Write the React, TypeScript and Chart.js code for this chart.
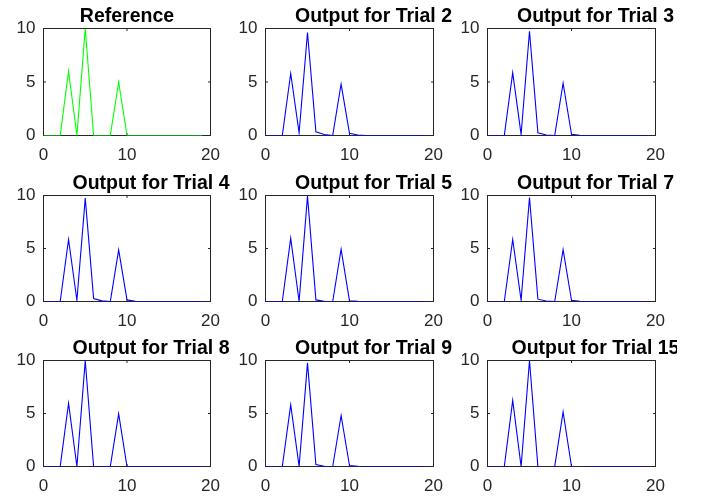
import React, { useEffect, useRef } from 'react';
import { Chart, registerables } from 'chart.js';

Chart.register(...registerables);

// ---------- data ----------
const X_VALUES = [0, 1, 2, 3, 4, 5, 6, 7, 8, 9, 10, 11, 12, 13, 14, 15, 16, 17, 18, 19];
const X_TICKS = [0, 10, 20];
const Y_TICKS = [0, 5, 10];

const REFERENCE = [0, 0, 0, 6, 0, 10, 0, 0, 0, 5, 0, 0, 0, 0, 0, 0, 0, 0, 0, 0];
const TRIAL_2 = [0, 0, 0, 5.8, 0.25, 9.63, 0.35, 0.1, 0, 4.81, 0.2, 0.05, 0, 0, 0, 0, 0, 0, 0, 0];
const TRIAL_3 = [0, 0, 0, 5.87, 0.1, 9.75, 0.25, 0.05, 0, 4.9, 0.12, 0.03, 0, 0, 0, 0, 0, 0, 0, 0];
const TRIAL_4 = [0, 0, 0, 5.85, 0.12, 9.75, 0.28, 0.06, 0, 4.87, 0.15, 0.03, 0, 0, 0, 0, 0, 0, 0, 0];
const TRIAL_5 = [0, 0, 0, 5.97, 0.02, 9.94, 0.15, 0.03, 0, 4.94, 0.06, 0.01, 0, 0, 0, 0, 0, 0, 0, 0];
const TRIAL_7 = [0, 0, 0, 5.85, 0.12, 9.81, 0.22, 0.04, 0, 4.9, 0.12, 0.03, 0, 0, 0, 0, 0, 0, 0, 0];
const TRIAL_8 = [0, 0, 0, 5.98, 0, 9.98, 0, 0, 0, 4.97, 0, 0, 0, 0, 0, 0, 0, 0, 0, 0];
const TRIAL_9 = [0, 0, 0, 5.82, 0.02, 9.78, 0.19, 0.03, 0, 4.81, 0.09, 0.03, 0, 0, 0, 0, 0, 0, 0, 0];
const TRIAL_15 = [0, 0, 0, 6.23, 0, 10.0, 0, -0.2, 0, 5.15, 0, -0.15, 0, 0, 0, 0, 0, 0, 0, 0];

const TITLES = [
  'Reference',
  'Output for Trial 2',
  'Output for Trial 3',
  'Output for Trial 4',
  'Output for Trial 5',
  'Output for Trial 7',
  'Output for Trial 8',
  'Output for Trial 9',
  'Output for Trial 15',
];
const SERIES = [REFERENCE, TRIAL_2, TRIAL_3, TRIAL_4, TRIAL_5, TRIAL_7, TRIAL_8, TRIAL_9, TRIAL_15];

// ---------- layout / style ----------
const W = 702;
const H = 497;
const COL_L = [43.5, 265.5, 487.5];
const COL_R = [210.5, 433.5, 655.5];
const ROW_T = [28.5, 195.5, 360.5];
const ROW_B = [135.5, 301.5, 466.5];
const Y_AXIS_W = 40;
const X_AXIS_H = 28;
const TITLE_CLIP_X = 677;
const AXIS_COLOR = '#262626';
const FONT_FAMILY = '"Liberation Sans", Arial, Helvetica, sans-serif';

const framePlugin = {
  id: 'mframe',
  beforeDatasetsDraw(chart: any) {
    const { ctx, chartArea, scales } = chart;
    const { left, right, top, bottom } = chartArea;
    ctx.save();
    ctx.strokeStyle = AXIS_COLOR;
    ctx.lineWidth = 1;
    ctx.strokeRect(left, top, right - left, bottom - top);
    const tl = 2.5;
    ctx.beginPath();
    for (const v of X_TICKS) {
      const px = scales.x.getPixelForValue(v);
      ctx.moveTo(px, bottom);
      ctx.lineTo(px, bottom - tl);
      ctx.moveTo(px, top);
      ctx.lineTo(px, top + tl);
    }
    for (const v of Y_TICKS) {
      const py = scales.y.getPixelForValue(v);
      ctx.moveTo(left, py);
      ctx.lineTo(left + tl, py);
      ctx.moveTo(right, py);
      ctx.lineTo(right - tl, py);
    }
    ctx.stroke();
    ctx.restore();
  },
  afterDraw(chart: any, _args: any, opts: any) {
    const { ctx, chartArea } = chart;
    const { left, right, top } = chartArea;
    ctx.save();
    ctx.beginPath();
    ctx.rect(0, 0, TITLE_CLIP_X, H);
    ctx.clip();
    ctx.font = `bold 19.5px ${FONT_FAMILY}`;
    ctx.fillStyle = '#000000';
    ctx.textAlign = 'center';
    ctx.textBaseline = 'alphabetic';
    ctx.fillText(opts.title, (left + right) / 2 + opts.shift, top - 6.5);
    ctx.restore();
  },
};

function Panel({ index }: { index: number }) {
  const ref = useRef<HTMLCanvasElement | null>(null);
  useEffect(() => {
    const row = Math.floor(index / 3);
    const col = index % 3;
    const L = COL_L[col];
    const R = COL_R[col];
    const T = ROW_T[row];
    const B = ROW_B[row];
    const values = SERIES[index];
    const chart = new Chart(ref.current as HTMLCanvasElement, {
      type: 'line',
      data: {
        datasets: [
          {
            data: X_VALUES.map((x, i) => ({ x, y: values[i] })),
            borderColor: index === 0 ? '#00ff00' : '#0000ff',
            borderWidth: 1.1,
            pointRadius: 0,
            tension: 0,
            fill: false,
          },
        ],
      },
      options: {
        animation: false,
        responsive: false,
        devicePixelRatio: 1,
        layout: {
          padding: {
            left: L - Y_AXIS_W,
            top: T,
            right: W - R,
            bottom: H - B - X_AXIS_H,
          },
        },
        plugins: {
          legend: { display: false },
          tooltip: { enabled: false },
          title: { display: false },
          mframe: { title: TITLES[index], shift: index === 0 ? 0 : 24 },
        } as any,
        scales: {
          x: {
            type: 'linear',
            min: 0,
            max: 20,
            grid: { display: false, drawTicks: false },
            border: { display: false },
            ticks: {
              stepSize: 10,
              padding: 10,
              maxRotation: 0,
              color: AXIS_COLOR,
              font: { family: FONT_FAMILY, size: 17 },
            },
            afterFit: (s: any) => {
              s.height = X_AXIS_H;
              s.paddingLeft = 0;
              s.paddingRight = 0;
            },
          },
          y: {
            type: 'linear',
            min: 0,
            max: 10,
            grid: { display: false, drawTicks: false },
            border: { display: false },
            ticks: {
              stepSize: 5,
              padding: 8,
              color: AXIS_COLOR,
              font: { family: FONT_FAMILY, size: 17 },
            },
            afterFit: (s: any) => {
              s.width = Y_AXIS_W;
              s.paddingTop = 0;
              s.paddingBottom = 0;
            },
          },
        },
      },
      plugins: [framePlugin],
    });
    return () => chart.destroy();
  }, [index]);
  return (
    <canvas
      ref={ref}
      width={W}
      height={H}
      style={{ position: 'absolute', left: 0, top: 0, width: W, height: H }}
    />
  );
}

export default function App() {
  return (
    <div style={{ position: 'absolute', left: 0, top: 0, width: W, height: H, background: '#ffffff', overflow: 'hidden' }}>
      {SERIES.map((_, i) => (
        <Panel key={i} index={i} />
      ))}
    </div>
  );
}
